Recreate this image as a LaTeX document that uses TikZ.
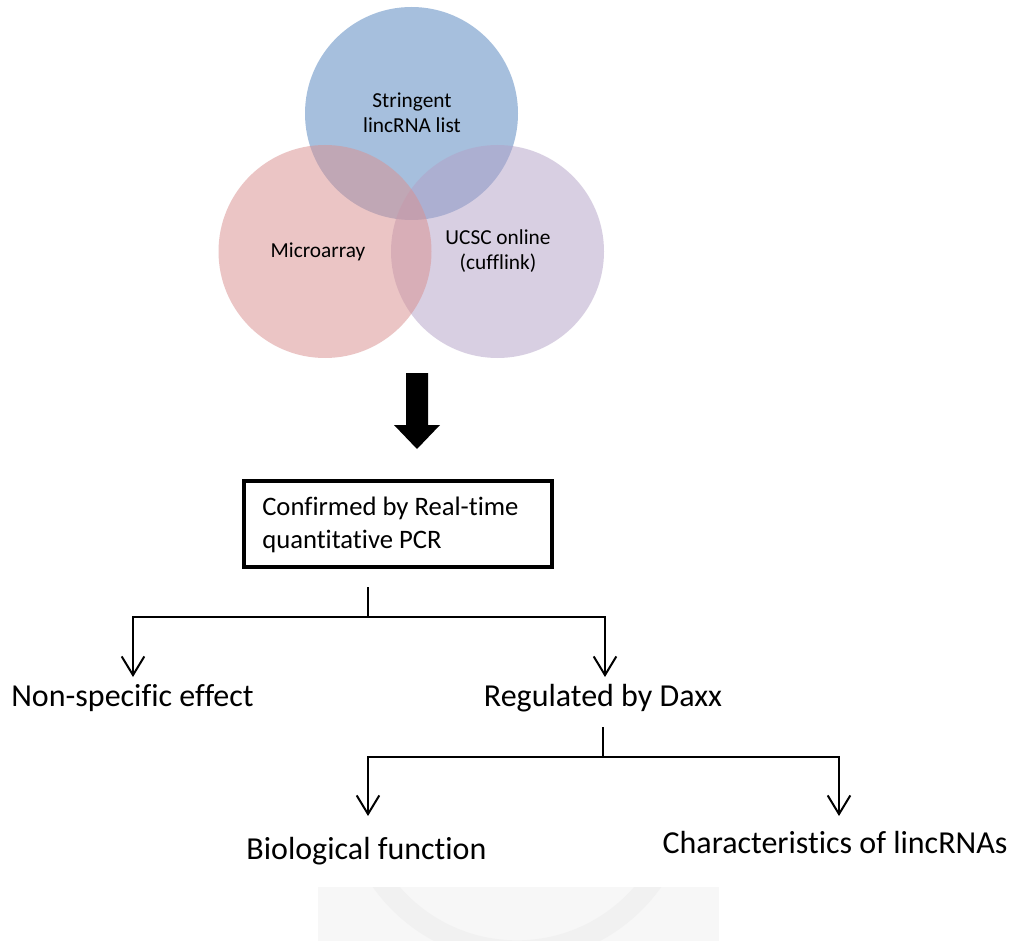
\documentclass[tikz,border=0pt]{standalone}
\usepackage{fontspec}
\setmainfont{Carlito}[Ligatures={NoCommon}]
\usetikzlibrary{arrows.meta}
\definecolor{vblue}{RGB}{79,129,189}
\definecolor{vpurple}{RGB}{179,161,199}
\definecolor{vred}{RGB}{217,145,145}
\definecolor{wmbg}{RGB}{247,247,247}
\definecolor{wmring}{RGB}{241,241,241}
\tikzset{
  venn/.style={circle, draw=none, minimum size={213*0.75pt}, inner sep=0pt},
  vlabel/.style={font=\fontsize{16}{18.75}\selectfont, align=center, anchor=base, inner sep=0pt},
  boxlabel/.style={font=\fontsize{20}{24.75}\selectfont, align=left, anchor=base west, inner sep=0pt},
  outlabel/.style={font=\fontsize{24}{28}\selectfont, anchor=base, inner sep=0pt},
  conn/.style={line width=1.5pt, line join=miter},
  arr/.style={conn, -{Straight Barb[length=14pt,width=17pt]}}
}
\begin{document}
\begin{tikzpicture}[x=0.75pt,y=-0.75pt]
\useasboundingbox (0,0) rectangle (1014,941);
\fill[white] (0,0) rectangle (1014,941);
% faint watermark strip
\begin{scope}
  \clip (318,887) rectangle (719,941);
  \fill[wmbg] (318,887) rectangle (719,941);
  \draw[wmring, line width=16pt] (517,785) circle[radius=166];
\end{scope}
% Venn circles
\node[venn, fill=vblue, fill opacity=0.5] (cblue) at (411.5,113.5) {};
\node[venn, fill=vpurple, fill opacity=0.5] (cpurple) at (497.5,251.5) {};
\node[venn, fill=vred, fill opacity=0.52] (cred) at (325,251.5) {};
\node[vlabel] (tblue) at (412,133) {Stringent\\lincRNA list};
\node[vlabel] (tred) at (318,258) {Microarray};
\node[vlabel] (tpurple) at (498,270) {UCSC online\\(cufflink)};
% big arrow
\fill[black] (406,373) -- (428,373) -- (428,425) -- (440,425) -- (417,449) -- (394,425) -- (406,425) -- cycle;
% box
\node[draw, line width=3pt, minimum width={308*0.75pt}, minimum height={86*0.75pt}, anchor=north west, inner sep=0pt] (box) at (241.5,478.5) {};
\node[boxlabel] (boxtext) at (262,548) {Confirmed by Real-time\\quantitative PCR};
% first split
\coordinate (s1top) at (368,587);
\coordinate (s1mid) at (368,617);
\coordinate (l1) at (133,617);
\coordinate (r1) at (605,617);
\coordinate (l1end) at (133,677);
\coordinate (r1end) at (605,677);
\draw[conn] (s1top) -- (s1mid);
\draw[arr] (s1mid) -- (l1) -- (l1end);
\draw[arr] (s1mid) -- (r1) -- (r1end);
\node[outlabel] (nonspec) at (132.5,706) {Non-specific effect};
\node[outlabel] (daxx) at (603,706) {Regulated by Daxx};
% second split
\coordinate (s2top) at (603,727);
\coordinate (s2mid) at (603,757);
\coordinate (l2) at (368,757);
\coordinate (r2) at (839,757);
\coordinate (l2end) at (368,816);
\coordinate (r2end) at (839,816);
\draw[conn] (s2top) -- (s2mid);
\draw[arr] (s2mid) -- (l2) -- (l2end);
\draw[arr] (s2mid) -- (r2) -- (r2end);
\node[outlabel] (bio) at (366.5,859) {Biological function};
\node[outlabel] (charac) at (835,853) {Characteristics of lincRNAs};
\end{tikzpicture}
\end{document}
